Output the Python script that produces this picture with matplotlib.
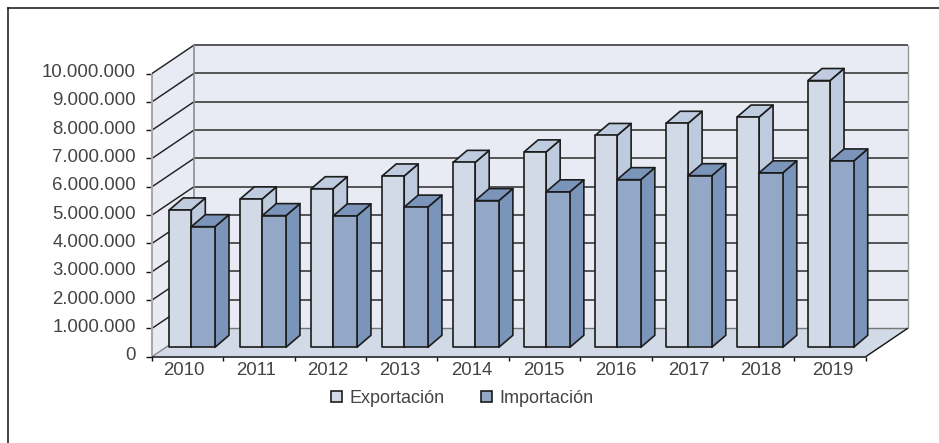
import matplotlib
matplotlib.use("Agg")
import matplotlib.pyplot as plt
from matplotlib.patches import Polygon, Rectangle
from matplotlib.lines import Line2D
from matplotlib.transforms import ScaledTranslation

plt.rcParams['font.family'] = ['Liberation Sans', 'DejaVu Sans']

years = ['2010', '2011', '2012', '2013', '2014', '2015', '2016', '2017', '2018', '2019']
exportacion = [4850000, 5240000, 5600000, 6050000, 6530000, 6900000, 7480000, 7910000, 8130000, 9420000]
importacion = [4260000, 4650000, 4640000, 4950000, 5180000, 5490000, 5920000, 6060000, 6160000, 6580000]
y_ticks = list(range(0, 10000001, 1000000))
y_labels = ['0'] + [f'{v:,}'.replace(',', '.') for v in y_ticks[1:]]

W, H = 939, 443
X0, X1, Y0, Y1 = 152.0, 865.7, 356.7, 73.5
PXX = (X1 - X0) / len(years)        # px per category
PXY = (Y0 - Y1) / 1e7               # px per unit value

fig = plt.figure(figsize=(W / 100, H / 100), dpi=100, facecolor='white')
ax = fig.add_axes([X0 / W, 1 - Y0 / H, (X1 - X0) / W, (Y0 - Y1) / H])
ax.set_xlim(0, len(years))
ax.set_ylim(0, 1e7)
ax.patch.set_visible(False)
for s in ax.spines.values():
    s.set_visible(False)

def dx(px):
    return px / PXX

def dy(px):
    return px / PXY

DX, DY = dx(42.3), dy(28.6)
WALL, FLOOR = '#E8EBF3', '#D3DAE7'
EDGE = '#1c1c1c'
BLW = 1.2

def poly(pts, fc, z, ec='none', lw=0):
    ax.add_patch(Polygon(pts, closed=True, facecolor=fc, edgecolor=ec, linewidth=lw,
                         zorder=z, clip_on=False, joinstyle='round'))

def line(xs, ys, c, lw, z=2):
    ax.add_line(Line2D(xs, ys, color=c, lw=lw, zorder=z, clip_on=False, solid_capstyle='butt'))

n = len(years)
# walls and floor
poly([(0, 0), (DX, DY), (DX, 1e7 + DY), (0, 1e7)], WALL, 1)
poly([(DX, DY), (n + DX, DY), (n + DX, 1e7 + DY), (DX, 1e7 + DY)], WALL, 1)

# gridlines
for v in y_ticks[1:]:
    line([0, DX], [v, v + DY], '#222222', 1.05)
    line([DX, n + DX], [v + DY, v + DY], '#333333', 1.15)
poly([(0, 0), (n, 0), (n + DX, DY), (DX, DY)], FLOOR, 2.5)
line([DX, n + DX], [DY, DY], '#777777', 1.0, 2.6)
line([0, DX], [0, DY], '#888888', 1.0, 2.6)
line([n, n + DX], [0, DY], '#111111', 1.0, 2.6)
line([0, 0], [0, 1e7], '#A8A8A8', 1.5, 2.6)
line([DX, DX], [DY, 1e7 + DY], '#8E8E8E', 1.2, 2.6)
line([n + DX, n + DX], [DY, 1e7 + DY], '#999999', 1.0, 2.6)

# bars
BASE = dy(9.4)
BDX, BDY = dx(14), dy(12)
EXP_W, IMP_W = dx(22), dx(23.7)
START, STEP = dx(17.3), dx(70.97)

def bar(x, w, v, front, side, top, z):
    yb, yt = BASE, BASE + v
    poly([(x + w, yb), (x + w + BDX, yb + BDY), (x + w + BDX, yt + BDY), (x + w, yt)], side, z, EDGE, BLW)
    poly([(x, yt), (x + BDX, yt + BDY), (x + w + BDX, yt + BDY), (x + w, yt)], top, z, EDGE, BLW)
    poly([(x, yb), (x + w, yb), (x + w, yt), (x, yt)], front, z + 0.01, EDGE, BLW)

for i, (e, m) in enumerate(zip(exportacion, importacion)):
    xe = START + i * STEP
    bar(xe, EXP_W, e, '#D3DAE7', '#BECBDF', '#BFCCE0', 3 + i)
    bar(xe + EXP_W, IMP_W, m, '#93A8C6', '#7B95BA', '#7A94BA', 3.5 + i)

# axes ticks and labels
TXT = '#444444'
FS = 13.4
ax.set_yticks(y_ticks, y_labels)
ax.tick_params(axis='y', length=4.3, width=1.0, color='#111111', pad=7.2,
               labelsize=FS, labelcolor=TXT)
up = ScaledTranslation(0, 3 / 100, fig.dpi_scale_trans)
for lab in ax.get_yticklabels():
    lab.set_transform(lab.get_transform() + up)

ax.set_xticks(range(n + 1), [''] * (n + 1))
ax.tick_params(axis='x', which='major', length=2.6, width=1.0, color='#111111')
ax.set_xticks([dx(31.7 + 72.1 * i) for i in range(n)], years, minor=True)
ax.tick_params(axis='x', which='minor', length=0, pad=4, labelsize=FS, labelcolor=TXT)
line([0, n], [0, 0], '#111111', 1.1, 2.7)

# legend
handles = [Rectangle((0, 0), 1, 1, facecolor='#D3DAE7', edgecolor=EDGE, linewidth=1.2),
           Rectangle((0, 0), 1, 1, facecolor='#93A8C6', edgecolor=EDGE, linewidth=1.2)]
fig.legend(handles, ['Exportación', 'Importación'], ncol=2, frameon=False,
           loc='center', bbox_to_anchor=(462 / W, 1 - 398.5 / H), fontsize=13.0,
           labelcolor=TXT, handlelength=0.62, handleheight=0.62, handletextpad=0.4,
           columnspacing=2.0, borderpad=0, borderaxespad=0)

# outer frame
fig.add_artist(Line2D([7.5 / W, 1], [1 - 7.5 / H] * 2, color='#111111', lw=1.1))
fig.add_artist(Line2D([7.5 / W, 7.5 / W], [0, 1 - 7.5 / H], color='#111111', lw=1.1))

fig.savefig('out.png', dpi=100, facecolor='white')
